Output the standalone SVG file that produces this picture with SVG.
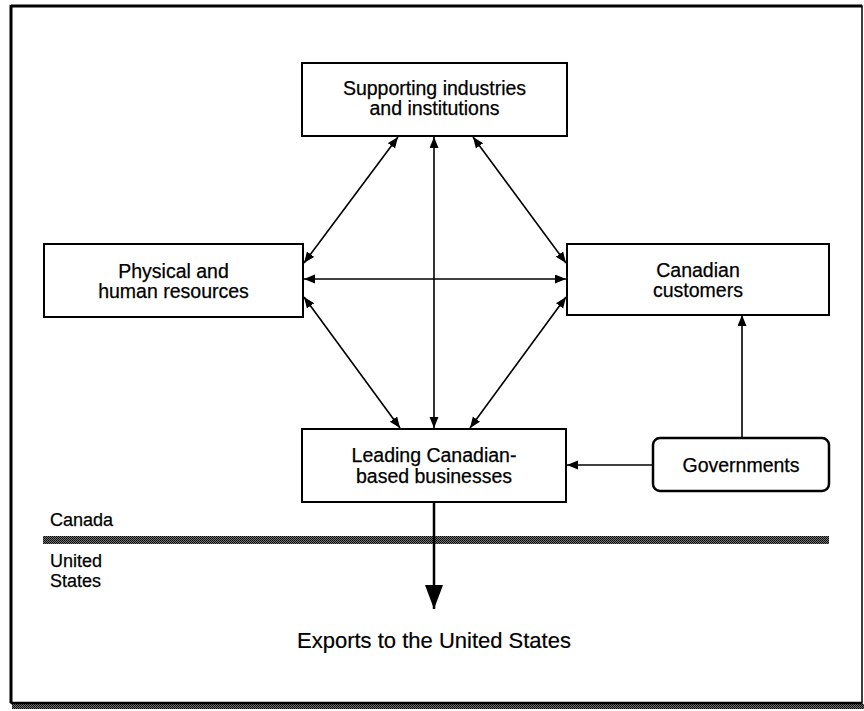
<svg xmlns="http://www.w3.org/2000/svg" width="864" height="711" viewBox="0 0 864 711">
<defs>
<style>
.box{fill:#fff;stroke:#000;stroke-width:2}
.t{font-family:"Liberation Sans",Arial,sans-serif;font-size:19.5px;fill:#000;stroke:#000;stroke-width:0.25;text-anchor:middle}
.lbl{font-family:"Liberation Sans",Arial,sans-serif;font-size:18px;fill:#000;stroke:#000;stroke-width:0.25}
.c{stroke:#000;stroke-width:1.6;fill:none}
</style>
<marker id="ah" markerUnits="userSpaceOnUse" markerWidth="12" markerHeight="10" refX="11" refY="4.5" orient="auto-start-reverse">
<path d="M0,0 L11,4.5 L0,9 Z" fill="#000"/>
</marker>
<marker id="big" markerUnits="userSpaceOnUse" markerWidth="26" markerHeight="20" refX="24" refY="9" orient="auto">
<path d="M0,0 L24,9 L0,18 Z" fill="#000"/>
</marker>
<pattern id="dith" width="2" height="2" patternUnits="userSpaceOnUse">
<rect width="2" height="2" fill="#777"/>
<rect width="1" height="1" fill="#000"/>
<rect x="1" y="1" width="1" height="1" fill="#111"/>
</pattern>
</defs>
<rect width="864" height="711" fill="#fff"/>
<g id="frame">
<rect x="12" y="704" width="852" height="5" fill="url(#dith)"/>
<path d="M11,703 L11,6 L862,6 L862,703 Z" fill="none" stroke="#000" stroke-width="1.5"/>
<line x1="11" y1="6" x2="862" y2="6" stroke="#000" stroke-width="3"/>
<line x1="11" y1="5" x2="11" y2="703" stroke="#000" stroke-width="3"/>
<line x1="11" y1="703" x2="862" y2="703" stroke="#000" stroke-width="2.5"/>
</g>
<g id="border">
<rect x="43" y="536" width="786" height="8" fill="url(#dith)"/>
<text class="lbl" x="50" y="526">Canada</text>
<text class="lbl" x="50" y="567">United</text>
<text class="lbl" x="50" y="587">States</text>
</g>
<g id="connectors">
<line class="c" x1="398" y1="137" x2="304" y2="263" marker-start="url(#ah)" marker-end="url(#ah)"/>
<line class="c" x1="473" y1="137" x2="566" y2="263" marker-start="url(#ah)" marker-end="url(#ah)"/>
<line class="c" x1="304" y1="297" x2="400" y2="428" marker-start="url(#ah)" marker-end="url(#ah)"/>
<line class="c" x1="566" y1="297" x2="470" y2="428" marker-start="url(#ah)" marker-end="url(#ah)"/>
<line class="c" x1="434" y1="137" x2="434" y2="428" marker-start="url(#ah)" marker-end="url(#ah)"/>
<line class="c" x1="304" y1="279" x2="566" y2="279" marker-start="url(#ah)" marker-end="url(#ah)"/>
<line class="c" x1="653" y1="465" x2="567" y2="465" marker-end="url(#ah)"/>
<line class="c" x1="742" y1="438" x2="742" y2="315" marker-end="url(#ah)"/>
<line x1="434" y1="503" x2="434" y2="609" stroke="#000" stroke-width="2.5" marker-end="url(#big)"/>
</g>
<g id="supporting">
<rect class="box" x="302" y="63" width="265" height="73"/>
<text class="t" x="434.5" y="95">Supporting industries</text>
<text class="t" x="434.5" y="115">and institutions</text>
</g>
<g id="physical">
<rect class="box" x="44" y="244" width="259" height="73"/>
<text class="t" x="173.5" y="278">Physical and</text>
<text class="t" x="173.5" y="298">human resources</text>
</g>
<g id="customers">
<rect class="box" x="567" y="244" width="262" height="71"/>
<text class="t" x="698" y="277">Canadian</text>
<text class="t" x="698" y="297">customers</text>
</g>
<g id="leading">
<rect class="box" x="302" y="429" width="264" height="73"/>
<text class="t" x="434" y="462">Leading Canadian-</text>
<text class="t" x="434" y="483">based businesses</text>
</g>
<g id="governments">
<rect class="box" x="653" y="438" width="176" height="53" rx="7" ry="7" style="stroke-width:2.5"/>
<text class="t" x="741" y="472">Governments</text>
</g>
<g id="exports">
<text x="434" y="648" font-family="Liberation Sans, Arial, sans-serif" font-size="22" text-anchor="middle" stroke="#000" stroke-width="0.2">Exports to the United States</text>
</g>
</svg>
